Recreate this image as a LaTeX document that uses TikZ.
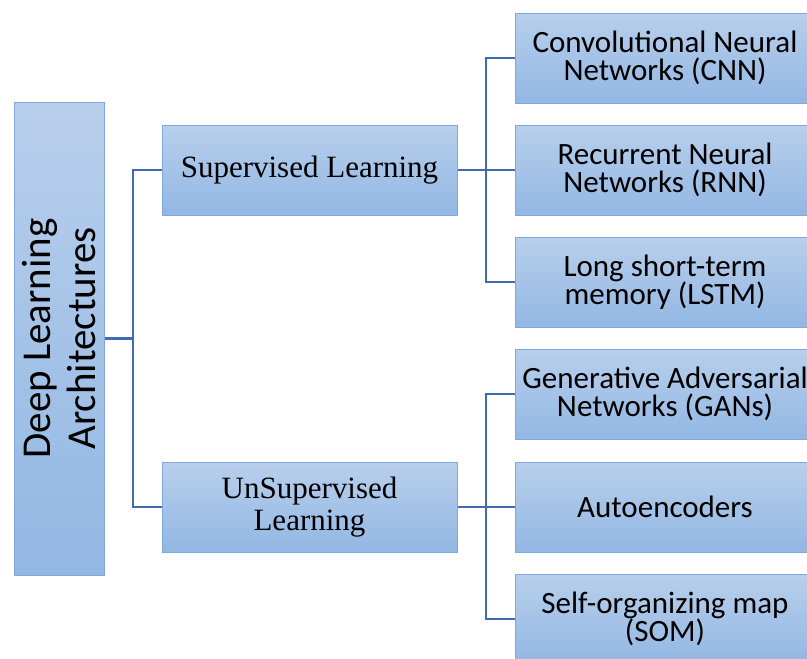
\documentclass[tikz,border=0pt]{standalone}
\usepackage{fontspec}
\setmainfont{Liberation Serif}
\newfontfamily\calfont{Carlito}
\definecolor{boxtop}{RGB}{184,207,236}
\definecolor{boxbot}{RGB}{146,183,227}
\definecolor{boxline}{RGB}{128,168,222}
\definecolor{linkblue}{RGB}{66,106,178}
\begin{document}
\begin{tikzpicture}[x=1pt, y=-1pt,
  box/.style={draw=boxline, line width=1pt, top color=boxtop, bottom color=boxbot, minimum height=90pt, align=center, inner sep=2pt},
  midbox/.style={box, minimum width=295pt, font=\fontsize{31}{32}\selectfont},
  leafbox/.style={box, minimum width=300pt, font=\calfont\fontsize{31}{28.5}\selectfont},
  link/.style={draw=linkblue, line width=2.2pt}]
  \useasboundingbox (0,0) rectangle (807,659);
  \clip (0,0) rectangle (807,659);
  % root
  \node[box, rotate=90, minimum width=473pt, font=\calfont\fontsize{41}{45}\selectfont] (dla) at (59,338.5)
    {Deep Learning\\Architectures};
  % learning types
  \node[midbox] (sup) at (309.5,170) {Supervised Learning};
  \node[midbox] (unsup) at (309.5,507) {UnSupervised\\Learning};
  % architectures
  \node[leafbox] (cnn) at (665,58) {Convolutional Neural\\Networks (CNN)};
  \node[leafbox] (rnn) at (665,170) {Recurrent Neural\\Networks (RNN)};
  \node[leafbox] (lstm) at (665,282) {Long short-term\\memory (LSTM)};
  \node[leafbox] (gan) at (665,394) {Generative Adversarial\\Networks (GANs)};
  \node[leafbox] (ae) at (665,507) {Autoencoders};
  \node[leafbox] (som) at (665,619) {Self-organizing map\\(SOM)};
  % connectors
  \coordinate (rj) at (133,338.5);
  \coordinate (sj) at (486,170);
  \coordinate (uj) at (486,507);
  \draw[link] (dla.south) -- (rj);
  \draw[link] (sup.west) -| (rj) |- (unsup.west);
  \draw[link] (sup.east) -- (sj) -- (rnn.west);
  \draw[link] (cnn.west) -| (sj) |- (lstm.west);
  \draw[link] (unsup.east) -- (uj) -- (ae.west);
  \draw[link] (gan.west) -| (uj) |- (som.west);
\end{tikzpicture}
\end{document}
